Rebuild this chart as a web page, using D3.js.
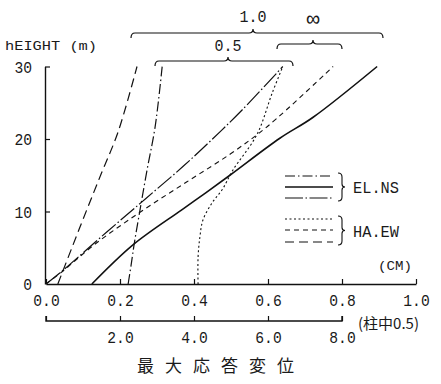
<!DOCTYPE html>
<html>
<head>
<meta charset="utf-8">
<script src="https://cdn.jsdelivr.net/npm/d3@7"></script>
<style>
  html, body { margin: 0; padding: 0; background: #fff; }
  svg { display: block; }
  .mono { font-family: "Liberation Mono", "DejaVu Sans Mono", monospace; fill: #1a1a1a; }
</style>
</head>
<body>
<svg id="chart" width="441" height="384"></svg>
<script>
// Maximum response displacement (cm) against height (m), pairs of [displacement, height]
const elNsDashDot     = [[0.222, 0], [0.230, 2.6], [0.238, 5.4], [0.254, 10.2], [0.273, 15.7], [0.295, 21.7], [0.314, 30]];
const elNsSolid       = [[0.124, 0], [0.235, 5.4], [0.366, 10.2], [0.424, 12.3], [0.497, 15.0], [0.632, 20.1], [0.722, 23.0], [0.895, 30]];
const elNsLongDashDot = [[0, 0], [0.046, 1.9], [0.165, 7.2], [0.270, 11.8], [0.370, 16.2], [0.450, 20.0], [0.530, 24.0], [0.640, 30]];
const haEwDotted      = [[0.411, 0], [0.411, 3.7], [0.416, 6.5], [0.424, 8.8], [0.449, 11.2], [0.476, 13.0], [0.505, 15.7], [0.570, 20.6], [0.611, 26.3], [0.640, 30]];
const haEwDashed      = [[0, 0], [0.046, 1.8], [0.130, 5.4], [0.254, 9.9], [0.381, 14.1], [0.500, 18.0], [0.600, 21.8], [0.776, 30]];
const haEwLongDash    = [[0.032, 0], [0.070, 5.0], [0.110, 10.2], [0.150, 15.3], [0.195, 21.0], [0.246, 30]];

const xTicks = [0, 0.2, 0.4, 0.6, 0.8, 1.0];
const x2Ticks = [0, 2, 4, 6, 8];
const yTicks = [0, 10, 20, 30];
const groupLabels = ["1.0", "∞", "0.5"];

const svg = d3.select("#chart");

const x = d3.scaleLinear().domain([0, 1]).range([46, 416]);
const x2 = d3.scaleLinear().domain([0, 10]).range([46, 416]);
const y = d3.scaleLinear().domain([0, 30]).range([284, 66.5]);

// line styles
const styles = {
  elNsDashDot:     { dash: "10,3,1.5,3", width: 1.2 },
  elNsSolid:       { dash: null, width: 1.6 },
  elNsLongDashDot: { dash: "18,2.5,1.5,2.5", width: 1.2 },
  haEwDotted:      { dash: "2,2.5", width: 1.1 },
  haEwDashed:      { dash: "5,4", width: 1.1 },
  haEwLongDash:    { dash: "9,5", width: 1.2 }
};

const series = [
  { key: "elNsDashDot", data: elNsDashDot },
  { key: "elNsSolid", data: elNsSolid },
  { key: "elNsLongDashDot", data: elNsLongDashDot },
  { key: "haEwDotted", data: haEwDotted },
  { key: "haEwDashed", data: haEwDashed },
  { key: "haEwLongDash", data: haEwLongDash }
];

// axes
const xAxis = d3.axisBottom(x).tickValues(xTicks).tickSizeInner(-5).tickSizeOuter(0)
  .tickPadding(11).tickFormat(d3.format(".1f"));
const gx = svg.append("g").attr("transform", `translate(0,${y(0)})`).call(xAxis);

const x2Axis = d3.axisBottom(x2).tickValues(x2Ticks).tickSizeInner(-5).tickSizeOuter(0)
  .tickPadding(11).tickFormat(d => d === 0 ? "" : d3.format(".1f")(d));
const gx2 = svg.append("g").attr("transform", "translate(0,321)").call(x2Axis);
gx2.select(".domain").attr("d", `M${x2(0)},-5V0H${x2(8)}V-5`);

const yAxis = d3.axisLeft(y).tickValues(yTicks).tickSizeInner(-5).tickSizeOuter(0)
  .tickPadding(13).tickFormat(d3.format("d"));
const gy = svg.append("g").attr("transform", "translate(45,0)").call(yAxis);
gy.selectAll(".tick").filter(d => d === 0).select("line").remove();

[gx, gx2, gy].forEach(g => {
  g.select(".domain").attr("stroke", "#111").attr("stroke-width", 1.4);
  g.selectAll(".tick line").attr("stroke", "#111").attr("stroke-width", 1.2);
  g.selectAll(".tick text").attr("class", "mono").attr("font-size", 16)
    .attr("textLength", function () { return this.textContent.length * 8.8; })
    .attr("lengthAdjust", "spacingAndGlyphs");
});
gy.selectAll(".tick text").attr("dy", "0.35em");

// data lines
const line = d3.line().x(d => x(d[0])).y(d => y(d[1])).curve(d3.curveCatmullRom.alpha(0.5));
svg.append("g").selectAll("path").data(series).join("path")
  .attr("d", d => line(d.data))
  .attr("fill", "none")
  .attr("stroke", "#111")
  .attr("stroke-width", d => styles[d.key].width)
  .attr("stroke-dasharray", d => styles[d.key].dash);

// curly brackets above the line tops
function brace(x0, x1, yy, tip) {
  const p = d3.path();
  p.moveTo(x0, yy + 5);
  p.quadraticCurveTo(x0, yy, x0 + 4, yy);
  p.lineTo(tip - 4, yy);
  p.quadraticCurveTo(tip, yy, tip, yy - 4);
  p.quadraticCurveTo(tip, yy, tip + 4, yy);
  p.lineTo(x1 - 4, yy);
  p.quadraticCurveTo(x1, yy, x1, yy + 5);
  return p.toString();
}
const braces = [
  { x0: 131, x1: 383, y: 33, tip: 253, label: groupLabels[0], lx: 253, ly: 22 },
  { x0: 277, x1: 342, y: 44, tip: 313, label: groupLabels[1], lx: 313, ly: 26 },
  { x0: 155, x1: 293, y: 61, tip: 228, label: groupLabels[2], lx: 228, ly: 51 }
];
svg.append("g").selectAll("path").data(braces).join("path")
  .attr("d", d => brace(d.x0, d.x1, d.y, d.tip))
  .attr("fill", "none").attr("stroke", "#111").attr("stroke-width", 1.2);
svg.append("g").selectAll("text").data(braces).join("text")
  .attr("class", "mono")
  .attr("x", d => d.lx).attr("y", d => d.ly)
  .attr("text-anchor", "middle")
  .attr("font-size", d => d.label === "∞" ? 22 : 16)
  .attr("textLength", d => d.label === "∞" ? null : 27)
  .attr("lengthAdjust", "spacingAndGlyphs")
  .text(d => d.label);

// axis titles
svg.append("text").attr("class", "mono").attr("x", 5).attr("y", 50)
  .attr("font-size", 13).attr("textLength", 92).attr("lengthAdjust", "spacingAndGlyphs")
  .text("hEIGHT (m)");
svg.append("text").attr("class", "mono").attr("x", 378).attr("y", 270)
  .attr("font-size", 13).attr("textLength", 34).attr("lengthAdjust", "spacingAndGlyphs")
  .text("(CM)");
svg.append("text").attr("x", 358).attr("y", 329)
  .attr("font-family", "Noto Sans CJK JP").attr("font-size", 15).attr("fill", "#1a1a1a")
  .text("(柱中0.5)");
svg.append("text").attr("x", 221).attr("y", 372)
  .attr("text-anchor", "middle")
  .attr("font-family", "Noto Sans CJK JP").attr("font-size", 17).attr("fill", "#1a1a1a")
  .attr("letter-spacing", 11)
  .text("最大応答変位");

// legend
const legendGroups = [
  { label: "EL.NS", keys: ["elNsDashDot", "elNsSolid", "elNsLongDashDot"], ys: [176, 187, 198] },
  { label: "HA.EW", keys: ["haEwDotted", "haEwDashed", "haEwLongDash"], ys: [219, 230, 242] }
];
const lg = svg.append("g");
legendGroups.forEach(gr => {
  gr.keys.forEach((k, i) => {
    lg.append("line")
      .attr("x1", 285).attr("x2", 333).attr("y1", gr.ys[i]).attr("y2", gr.ys[i])
      .attr("stroke", "#111").attr("stroke-width", styles[k].width)
      .attr("stroke-dasharray", styles[k].dash);
  });
  const top = gr.ys[0] - 3, bot = gr.ys[2] + 3, mid = (top + bot) / 2;
  const p = d3.path();
  p.moveTo(338, top);
  p.quadraticCurveTo(342, top, 342, top + 4);
  p.lineTo(342, mid - 3);
  p.quadraticCurveTo(342, mid, 345, mid);
  p.quadraticCurveTo(342, mid, 342, mid + 3);
  p.lineTo(342, bot - 4);
  p.quadraticCurveTo(342, bot, 338, bot);
  lg.append("path").attr("d", p.toString()).attr("fill", "none")
    .attr("stroke", "#111").attr("stroke-width", 1.1);
  lg.append("text").attr("class", "mono").attr("x", 353).attr("y", (gr.ys[0] + gr.ys[2]) / 2 + 6)
    .attr("font-size", 16).attr("textLength", 46).attr("lengthAdjust", "spacingAndGlyphs")
    .text(gr.label);
});
</script>
</body>
</html>
